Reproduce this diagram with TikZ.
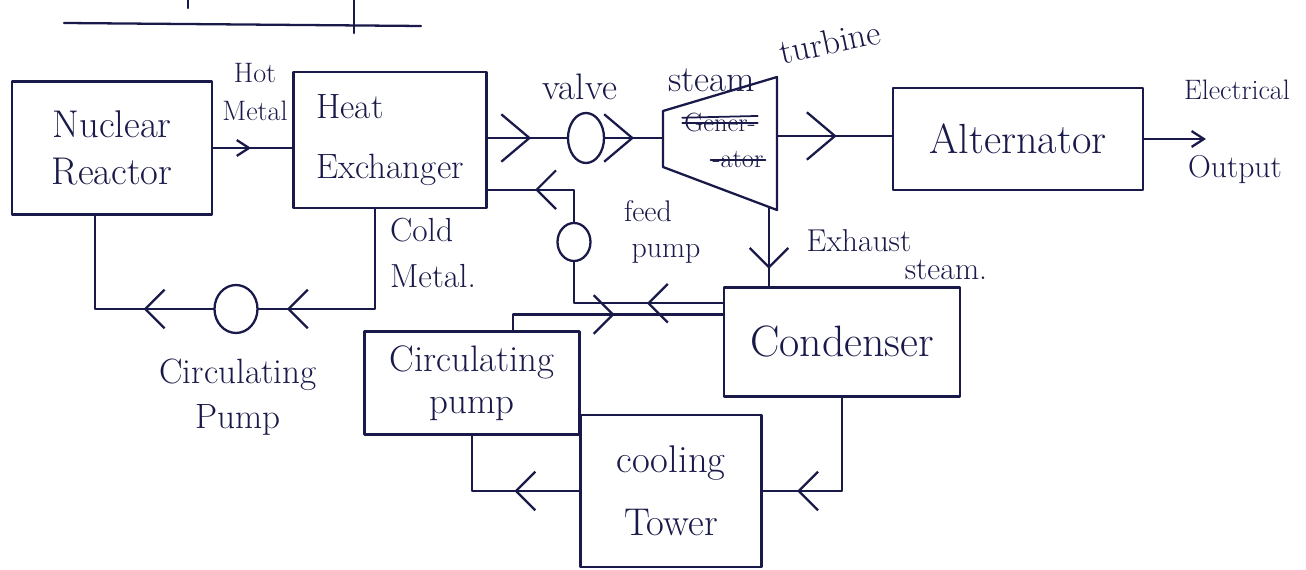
\documentclass[tikz,border=0pt]{standalone}
\usetikzlibrary{arrows.meta,shapes.geometric,decorations.markings}
\definecolor{ink}{RGB}{26,26,74}
\newcommand\boxfont{\fontsize{22}{27}\selectfont}
\newcommand\lblfont{\fontsize{18}{22}\selectfont}

\begin{document}
\begin{tikzpicture}[x=0.02cm,y=-0.02cm,line cap=round,line join=round,color=ink,
  every node/.style={inner sep=1pt},
  unit/.style={draw,line width=1.3pt,align=center,font=\boxfont,inner sep=0pt},
  pumpo/.style={ellipse,draw,line width=1.3pt,inner sep=0pt},
  lbl/.style={font=\lblfont,align=center},
  pipe/.style={draw,line width=1.3pt},
  chev/.style={decoration={markings,mark=at position #1 with {\arrow{Straight Barb[length=11pt,width=22pt]}}},postaction={decorate}},
  bigchev/.style={decoration={markings,mark=at position #1 with {\arrow{Straight Barb[length=16pt,width=27pt]}}},postaction={decorate}},
  smallchev/.style={decoration={markings,mark=at position #1 with {\arrow{Straight Barb[length=7pt,width=9pt]}}},postaction={decorate}}]
  \fill[white] (0,0) rectangle (1306,570);
  \useasboundingbox (0,0) rectangle (1306,570);
  \draw[line width=1.3pt] (64,23) -- (421,26);
  \draw[line width=1.3pt] (354,0) -- (354,33);
  \draw[line width=1.3pt] (188,0) -- (188,8);
  % units
  \node[unit,minimum width=4cm,minimum height=2.66cm] (reactor) at (112,148) {Nuclear\\Reactor};
  \node[unit,minimum width=3.86cm,minimum height=2.72cm,align=left,font=\fontsize{20}{34}\selectfont] (hx) at (390,140) {Heat\\Exchanger};
  \node[pumpo,minimum width=0.72cm,minimum height=1cm] (valve) at (586,138) {};
  \node[unit,minimum width=5cm,minimum height=2.04cm,font=\fontsize{24}{28}\selectfont] (alt) at (1018,139) {Alternator};
  \node[pumpo,minimum width=0.66cm,minimum height=0.76cm] (fpump) at (574,242) {};
  \node[unit,minimum width=4.72cm,minimum height=2.18cm,font=\fontsize{25}{30}\selectfont] (cond) at (842,342) {Condenser};
  \node[pumpo,minimum width=0.86cm,minimum height=0.96cm] (rpump) at (236,309) {};
  \node[unit,minimum width=4.3cm,minimum height=2.06cm,font=\fontsize{21}{24}\selectfont] (cwbox) at (472,383) {Circulating\\pump};
  \node[unit,minimum width=3.62cm,minimum height=3.04cm,font=\fontsize{22}{36}\selectfont] (tower) at (671,491) {cooling\\Tower};
  % turbine
  \draw[line width=1.3pt] (663,111) -- (777,77) -- (777,210) -- (663,167) -- cycle;
  \coordinate (tin) at (663,138);
  \coordinate (tout) at (777,136);
  \coordinate (tex) at (769,207);
  \coordinate (eout) at (1206,139);
  \node[font=\fontsize{15}{17}\selectfont] (gen) at (720,123) {Gener-};
  \node[font=\fontsize{15}{17}\selectfont] (ator) at (738,160) {-ator};
  \draw[line width=1pt] (gen.west) -- (gen.east);
  \draw[line width=1pt] ([yshift=3pt]gen.west) -- ([yshift=4pt]gen.east);
  \draw[line width=1pt] (ator.west) -- (ator.east);
  % labels
  \node[lbl,font=\fontsize{16}{22}\selectfont] (hot) at (255,92) {Hot\\Metal};
  \node[lbl,font=\fontsize{21}{24}\selectfont] (valvel) at (580,87) {valve};
  \node[lbl,font=\fontsize{21}{24}\selectfont] (steaml) at (712,80) {steam};
  \node[lbl,rotate=12,font=\fontsize{20}{24}\selectfont] (turbl) at (830,42) {turbine};
  \node[lbl,font=\fontsize{16}{20}\selectfont] (elec) at (1237,90) {Electrical};
  \node[lbl] (outp) at (1235,170) {Output};
  \node[lbl,align=left,anchor=west,font=\fontsize{19}{26}\selectfont] (cold) at (388,253) {Cold\\Metal.};
  \node[lbl,font=\fontsize{17}{20}\selectfont] (feedl) at (648,232) {feed\\\hspace{1.2em}pump};
  \node[lbl] (exh1) at (859,241) {Exhaust};
  \node[lbl] (exh2) at (946,270) {steam.};
  \node[lbl,font=\fontsize{20}{26}\selectfont] (rpumpl) at (238,397) {Circulating\\Pump};
  % connectors
  \draw[pipe,smallchev=0.48] (reactor.east) -- (reactor.east -| hx.west);
  \draw[pipe,bigchev=0.55] (valve.west -| hx.east) -- (valve.west);
  \draw[pipe,bigchev=0.5] (valve.east) -- (tin);
  \draw[pipe,bigchev=0.52] (tout) -- (tout -| alt.west);
  \draw[pipe,-{Straight Barb[length=7pt,width=9pt]}] (alt.east) -- (eout);
  \draw[pipe,chev=0.78] (tex) -- (tex |- cond.north);
  \draw[pipe,chev=0.4] (cond.162) -| (fpump.south);
  \draw[pipe,chev=0.6] (fpump.north) |- (hx.-27);
  \draw[pipe,chev=0.52] (cwbox.52) |- (cond.167);
  \draw[pipe,chev=0.8] (cond.south) |- (tower.east);
  \draw[pipe,chev=0.4] (tower.west) -| (cwbox.south);
  \draw[pipe,chev=0.87] (hx.-102) |- (rpump.east);
  \draw[pipe,chev=0.33] (rpump.west) -| (reactor.-104);
\end{tikzpicture}
\end{document}
